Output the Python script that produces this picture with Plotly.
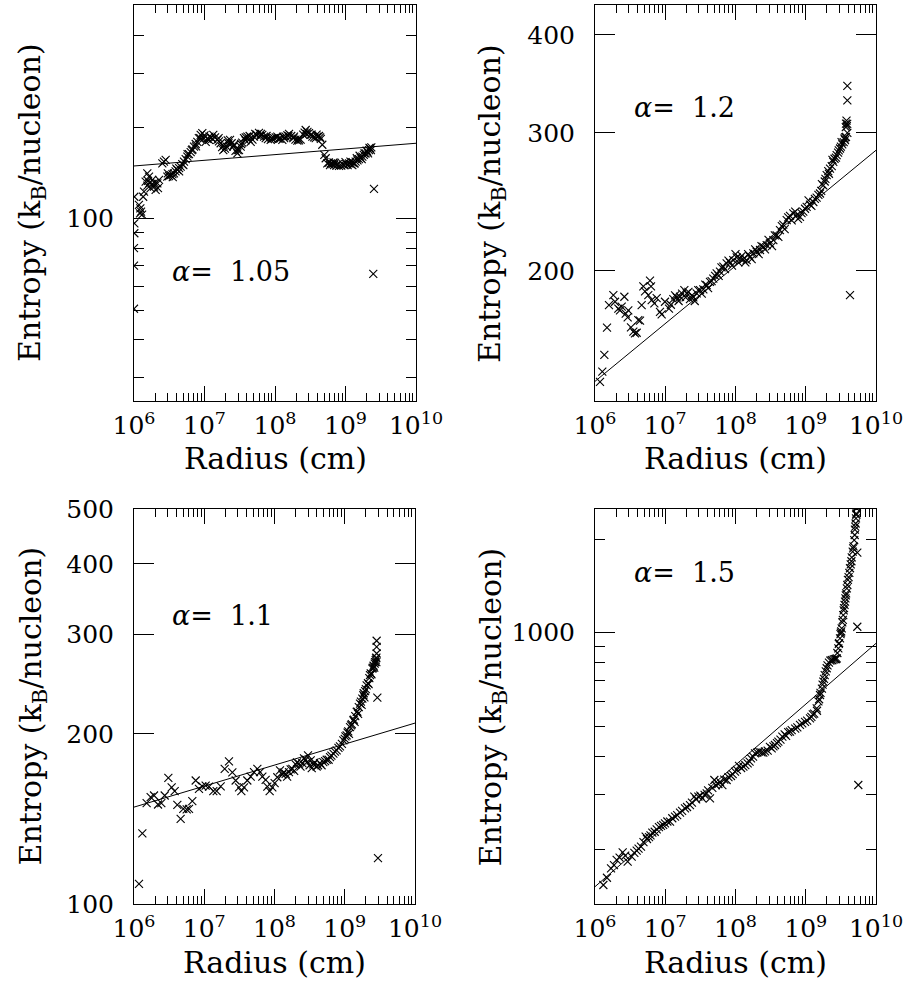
import math
import plotly.graph_objects as go

# ---------------- data ----------------
# Panel 1: alpha = 1.05   (log10 radius [cm], entropy [k_B/nucleon])
lgR1 = [6.005, 6.005, 6.005, 6.0, 6.0, 6.0,
        6.07, 6.085, 6.09, 6.10, 6.115, 6.13,
        6.142, 6.165, 6.189, 6.213, 6.189, 6.236, 6.26, 6.284, 6.307, 6.331, 6.355, 6.26, 6.2,
        6.22, 6.29, 6.34,
        6.402, 6.425, 6.449,
        6.473, 6.48, 6.497, 6.52, 6.545, 6.55, 6.567, 6.59, 6.60, 6.615, 6.64, 6.64, 6.662,
        6.685, 6.70, 6.709, 6.733, 6.757, 6.76, 6.78, 6.804, 6.82, 6.83, 6.851, 6.875, 6.88,
        6.898, 6.92, 6.94, 6.946, 6.969, 7.0,
        6.99, 7.017, 7.04, 7.064, 7.07, 7.095, 7.11, 7.125, 7.15, 7.182, 7.20, 7.205, 7.229,
        7.25, 7.267, 7.27, 7.29, 7.314, 7.33, 7.34, 7.362, 7.385, 7.409, 7.42, 7.44, 7.466,
        7.47, 7.49, 7.513, 7.52, 7.535, 7.56, 7.58, 7.585, 7.608, 7.63, 7.64, 7.655, 7.68,
        7.702, 7.72, 7.74, 7.773, 7.79, 7.8, 7.82, 7.845, 7.868, 7.88, 7.9, 7.939, 7.95,
        7.96, 7.986, 8.01, 8.033, 8.05, 8.07, 8.104, 8.12, 8.13, 8.151, 8.175, 8.19, 8.199,
        8.23, 8.26, 8.27, 8.29, 8.317, 8.33, 8.34, 8.364, 8.4, 8.42, 8.435, 8.45, 8.46,
        8.482, 8.505, 8.52, 8.53, 8.555, 8.577, 8.59, 8.6, 8.624, 8.64, 8.65, 8.671,
        8.70, 8.719, 8.742, 8.765, 8.78, 8.79, 8.815, 8.83, 8.837, 8.85, 8.87, 8.89, 8.908,
        8.94, 8.96, 8.979, 9.0, 9.01, 9.03, 9.05, 9.07, 9.075, 9.097, 9.1, 9.12, 9.13,
        9.144, 9.16, 9.17, 9.191, 9.2, 9.215, 9.23, 9.239, 9.26, 9.27, 9.286, 9.3, 9.31,
        9.32, 9.333, 9.34, 9.35, 9.36, 9.366,
        9.404, 9.394]
S1 = [118, 96.5, 89.5, 80, 70, 50.5,
      111, 104, 108, 105.5, 103, 118,
      122.7, 132.4, 128.4, 137.5, 141, 126, 134, 127.4, 124.3, 130.7, 134, 130, 133,
      131, 131, 126,
      152, 154, 156,
      137.5, 141, 138, 139, 140, 137, 141, 143, 146, 144.6, 146.5, 143, 148.3,
      151, 150, 154, 157, 160, 163, 163, 165.5, 168, 169, 172.5, 176, 173,
      179, 184, 184, 188.5, 191, 188,
      184, 179, 183, 181.5, 186, 185, 183, 188.5, 185, 181.5, 184, 179.5, 177,
      172, 168, 174, 170, 172.5, 181, 177, 181.5, 177, 172.5, 175, 167, 164,
      168, 168, 172.5, 176, 178, 184, 181, 185, 186, 182, 187, 179, 182,
      186, 190, 189, 191.5, 187, 190, 188.5, 186, 184, 187, 182.5, 181.5, 184,
      183, 184, 185, 186, 183, 183.5, 181.5, 186, 184, 186, 188, 187, 190,
      187, 184, 186, 182, 180.5, 183, 181, 182, 189, 192, 195.7, 190, 193,
      191, 188.5, 189, 186, 185, 184, 189, 186, 187, 185, 183, 175,
      162, 158, 152, 153, 150, 152, 151, 153, 150, 152.5, 149.5, 151, 149,
      149.5, 151, 150, 153.5, 151, 150, 152, 154, 151, 150, 153, 152, 152,
      154, 158, 155.5, 157, 161, 158.5, 157, 160, 162, 164, 164, 167.5, 166,
      164, 168, 171, 170, 168, 171.5,
      125.3, 65.8]
fitR1 = [1e6, 1e10]
fitS1 = [149, 177]

# Panel 2: alpha = 1.2
lgR2 = [6.071, 6.104, 6.133, 6.171, 6.199, 6.261, 6.285, 6.332, 6.356, 6.38, 6.418, 6.437,
        6.474, 6.465, 6.512, 6.546, 6.569, 6.593, 6.617, 6.641, 6.664, 6.688, 6.712, 6.783,
        6.797, 6.759, 6.807, 6.845, 6.878, 6.925, 6.949, 6.996, 7.053, 7.08, 7.115, 7.14,
        7.163, 7.19, 7.21, 7.24, 7.272, 7.29, 7.305, 7.33, 7.352, 7.38, 7.4, 7.42, 7.447,
        7.47, 7.495, 7.52, 7.542, 7.57, 7.59, 7.61, 7.637, 7.66, 7.684, 7.71, 7.732, 7.76,
        7.779, 7.80, 7.827, 7.85, 7.874, 7.90, 7.922, 7.95, 7.969, 8.0, 8.017, 8.04, 8.064,
        8.09, 8.112, 8.14, 8.159, 8.18, 8.206, 8.23, 8.254, 8.28, 8.301, 8.33, 8.349, 8.37,
        8.396, 8.42, 8.444, 8.47, 8.491, 8.52, 8.539, 8.56, 8.586, 8.61, 8.633, 8.66, 8.68,
        8.70, 8.729, 8.75, 8.776, 8.80, 8.823, 8.85, 8.87, 8.89, 8.918, 8.94, 8.965, 8.99,
        9.013, 9.04, 9.06, 9.08, 9.108, 9.13, 9.155, 9.18, 9.203, 9.22, 9.23, 9.25, 9.27,
        9.28, 9.298, 9.32, 9.33, 9.345, 9.37, 9.38, 9.392, 9.41, 9.43, 9.44, 9.46, 9.47,
        9.488, 9.50, 9.51, 9.52, 9.54, 9.55, 9.559, 9.56, 9.57, 9.573, 9.573, 9.58, 9.585,
        9.59, 9.592, 9.592, 9.592, 9.63]
S2 = [144.3, 148.7, 156.2, 169.2, 180.8, 186.2, 182.6, 179, 178, 180, 185.3, 176.3,
      178, 174.4, 169.4, 167.2, 166.4, 166.7, 173, 172.7, 180.8, 191, 188.3, 194.3,
      191, 186.2, 183.5, 181.7, 184.5, 177.3, 176, 182.6, 179, 181, 184, 186,
      185, 183, 185.3, 187, 189, 185, 187.2, 188, 184, 186, 185, 183, 187.2,
      189, 189, 187, 189.4, 192, 191.8, 190, 193.6, 194, 195.5, 197, 198.5, 197,
      199.5, 202, 202.4, 201, 204.4, 206, 204.8, 203, 206.4, 210, 208, 205, 207.4,
      209, 206.8, 205, 206.4, 210, 208.4, 207, 210.5, 213, 211.5, 210, 212.6, 215,
      214.6, 213, 215.7, 219, 216.8, 215, 218.9, 222, 222, 221, 225.4, 228, 229,
      226, 232.1, 234, 235, 232, 236.7, 238, 235.5, 233, 234.4, 237, 238, 240,
      241.3, 246, 243, 242, 244.8, 247, 248, 250, 251, 253, 258, 257, 260,
      262, 265, 268, 266, 270, 272, 277, 275.5, 278, 279, 281, 283, 285,
      286.5, 288, 292, 290, 292, 295, 293.6, 296, 305, 296.5, 308.3, 311, 306,
      308, 300, 330.1, 344.4, 186.2]
fitR2 = [1e6, 1e10]
fitS2 = [144.5, 285]

# Panel 3: alpha = 1.1
lgR3 = [6.071, 6.119, 6.18, 6.237, 6.285, 6.342, 6.389, 6.437, 6.489, 6.536, 6.579, 6.617,
        6.664, 6.702, 6.75, 6.783, 6.83, 6.878, 6.925, 6.973, 7.02, 7.068, 7.129, 7.177,
        7.234, 7.291, 7.352, 7.4, 7.447, 7.495, 7.528, 7.566, 7.613, 7.661, 7.708, 7.756,
        7.794, 7.827, 7.874, 7.898, 7.931, 7.969, 8.002, 8.04, 8.078, 8.112, 8.13, 8.159,
        8.18, 8.206, 8.23, 8.254, 8.28, 8.301, 8.32, 8.349, 8.37, 8.396, 8.42, 8.444, 8.46,
        8.477, 8.50, 8.515, 8.53, 8.553, 8.57, 8.6, 8.62, 8.648, 8.67, 8.695, 8.72, 8.743,
        8.77, 8.79, 8.81, 8.838, 8.86, 8.885, 8.91, 8.932, 8.96, 8.98, 9.0, 9.01, 9.027,
        9.04, 9.05, 9.06, 9.075, 9.09, 9.1, 9.122, 9.13, 9.14, 9.15, 9.17, 9.18, 9.19, 9.2,
        9.217, 9.23, 9.24, 9.25, 9.265, 9.27, 9.28, 9.29, 9.3, 9.312, 9.33, 9.34, 9.35,
        9.359, 9.37, 9.38, 9.393, 9.4, 9.41, 9.42, 9.426, 9.43, 9.44, 9.445, 9.45, 9.45,
        9.454, 9.454, 9.454, 9.464, 9.473]
S3 = [108.5, 133.4, 150.8, 154.5, 155.6, 150, 150.8, 155.6, 167.2, 160.9, 158.4, 149.8,
      141.5, 147.4, 147, 147.4, 152.1, 165.4, 159.9, 161.5, 162, 161.3, 158.4, 158.4,
      161.5, 173.4, 178.8, 170.9, 165.4, 160.9, 158.4, 160.9, 165.4, 168.1, 171.1, 173.4,
      171.1, 168.1, 165.8, 161.3, 158.4, 160.9, 163.6, 167.6, 172.3, 169.5, 171, 170,
      168, 171.1, 173, 173.4, 172, 176.6, 178, 177.1, 175, 177.6, 181, 180, 178,
      183.2, 176, 179.5, 174, 176.6, 178, 175.1, 176, 177.6, 176, 178.3, 179, 180,
      180, 181.9, 183, 184.5, 186, 187, 189, 190, 192, 194.7, 196, 198, 198.7,
      201, 202, 200, 205.6, 207, 208, 211.3, 212, 210, 215, 218.8, 219, 217, 223,
      226.3, 228, 225, 231, 234.1, 236, 232, 238, 240, 243.8, 246, 245, 251,
      254, 256, 255, 261, 262, 264, 262, 266.4, 268, 270, 272, 273, 268,
      277.5, 285.1, 292.3, 231.9, 120.5]
fitR3 = [1e6, 1e10]
fitS3 = [148.4, 209]

# Panel 4: alpha = 1.5
lgR4 = [6.119, 6.17, 6.228, 6.27, 6.308, 6.35, 6.394, 6.43, 6.465, 6.522, 6.56, 6.593,
        6.62, 6.655, 6.69, 6.721, 6.74, 6.769, 6.79, 6.816, 6.85, 6.878, 6.91, 6.94, 6.97,
        6.996, 7.03, 7.068, 7.10, 7.139, 7.17, 7.21, 7.24, 7.281, 7.31, 7.352, 7.38, 7.414,
        7.44, 7.471, 7.50, 7.528, 7.56, 7.59, 7.61, 7.637, 7.67, 7.699, 7.72, 7.756, 7.78,
        7.813, 7.84, 7.874, 7.90, 7.936, 7.96, 7.993, 8.02, 8.05, 8.08, 8.112, 8.14, 8.173,
        8.20, 8.221, 8.25, 8.278, 8.31, 8.335, 8.37, 8.396, 8.42, 8.458, 8.49, 8.515, 8.54,
        8.562, 8.59, 8.61, 8.64, 8.667, 8.70, 8.72, 8.75, 8.776, 8.80, 8.85, 8.88, 8.918,
        8.95, 8.99, 9.02, 9.06, 9.08, 9.1, 9.12, 9.156, 9.16, 9.18, 9.19, 9.203, 9.21, 9.23,
        9.24, 9.25, 9.26, 9.27, 9.285, 9.298, 9.31, 9.33, 9.35, 9.369, 9.38, 9.40, 9.42,
        9.43, 9.441, 9.45, 9.464, 9.47, 9.475, 9.488, 9.495, 9.50, 9.505, 9.512, 9.52,
        9.528, 9.534, 9.54, 9.545, 9.552, 9.559, 9.565, 9.57, 9.575, 9.585, 9.592, 9.60,
        9.61, 9.62, 9.63, 9.64, 9.65, 9.655, 9.668, 9.675, 9.68, 9.69, 9.697, 9.70, 9.705,
        9.71, 9.715, 9.718, 9.72, 9.725, 9.728,
        9.734, 9.734, 9.748]
S4 = [153.5, 162, 173.8, 178, 184.9, 188, 195.6, 191, 182.5, 189.4, 195, 198,
      201, 204, 211, 219.8, 216, 219, 222, 226.4, 228, 232.1, 236, 238, 240,
      242.8, 246, 245.8, 252, 255, 258, 262.7, 266, 271.3, 274, 278, 283, 295.8,
      290, 295.8, 298, 292.1, 300, 303.2, 310, 292.1, 316, 334.8, 322, 325, 330,
      322.5, 336, 334.8, 342, 344.9, 350, 356.4, 361, 371.6, 366, 369.8, 374, 379,
      384, 393.2, 398, 408.2, 410, 413.2, 411, 410.2, 414, 416.3, 428, 423.7, 430,
      434.2, 440, 445, 452, 461.8, 470, 465, 478, 479.3, 485, 490, 495, 503.9,
      510, 516, 520, 529.6, 535, 545, 548, 570.4, 560, 600, 610, 629.5, 640, 660,
      680, 695.1, 710, 730, 750, 767.8, 785, 800, 812, 816.3, 815, 820, 822,
      822, 826.7, 860, 890.7, 920, 925, 959.2, 990, 1000, 1010, 1033, 1080,
      1100, 1140, 1180, 1200, 1230, 1259, 1290, 1320, 1340, 1390, 1425, 1480,
      1510, 1560, 1614, 1660, 1700, 1750, 1825, 1870, 1900, 1990, 2066, 2150, 2200,
      2250, 2339, 2420, 2400, 2520, 2550,
      1811, 1045, 322.6]
fitR4 = [1e6, 1e10]
fitS4 = [151.6, 924]

alpha_labels = ["1.05", "1.2", "1.1", "1.5"]
xtick_vals = [1e6, 1e7, 1e8, 1e9, 1e10]
xtick_text = ["10<sup>6</sup>", "10<sup>7</sup>", "10<sup>8</sup>", "10<sup>9</sup>", "10<sup>10</sup>"]

# ---------------- figure ----------------
W, H = 911, 986
FONT = "DejaVu Serif"

panels = [
    (lgR1, S1, fitR1, fitS1),
    (lgR2, S2, fitR2, fitS2),
    (lgR3, S3, fitR3, fitS3),
    (lgR4, S4, fitR4, fitS4),
]

fig = go.Figure()
for i, (lr, s, fr, fs) in enumerate(panels):
    sfx = "" if i == 0 else str(i + 1)
    fig.add_trace(go.Scatter(
        x=[10 ** v for v in lr], y=s, mode="markers",
        marker=dict(symbol="x-thin", size=8, color="black",
                    line=dict(width=1.1, color="black")),
        xaxis="x" + sfx, yaxis="y" + sfx, showlegend=False, cliponaxis=True))
    fig.add_trace(go.Scatter(
        x=fr, y=fs, mode="lines", line=dict(color="black", width=1),
        xaxis="x" + sfx, yaxis="y" + sfx, showlegend=False))

# pixel boxes of the four plot areas (left, right, top, bottom)
boxes = [(134, 416, 5, 401), (595, 876, 5, 401), (134, 415, 509, 904), (595, 876, 509, 904)]

minor_x = [m * 10 ** e for e in range(6, 10) for m in range(2, 10)]

yspecs = [
    dict(range=[math.log10(25.1), math.log10(504.7)], major=[100], minor=[30, 40, 50, 60, 70, 80, 90, 200, 300, 400]),
    dict(range=[math.log10(136.4), math.log10(436.8)], major=[200, 300, 400], minor=[]),
    dict(range=[2.0, math.log10(500)], major=[100, 200, 300, 400, 500], minor=[]),
    dict(range=[math.log10(133.3), math.log10(2506)], major=[1000], minor=[200, 300, 400, 500, 600, 700, 800, 900, 2000]),
]

tickfont = dict(family=FONT, size=25, color="black")
layout = dict(width=W, height=H, margin=dict(l=0, r=0, t=0, b=0),
              paper_bgcolor="white", plot_bgcolor="white", showlegend=False,
              annotations=[])

for i, (l, r, t, b) in enumerate(boxes):
    sfx = "" if i == 0 else str(i + 1)
    xd = [l / W, r / W]
    yd = [1 - b / H, 1 - t / H]
    layout["xaxis" + sfx] = dict(
        type="log", range=[6, 10], domain=xd, anchor="y" + sfx,
        tickmode="array", tickvals=xtick_vals, ticktext=xtick_text,
        ticks="inside", ticklen=15, tickwidth=1, tickcolor="black",
        showline=True, linecolor="black", linewidth=1, mirror="ticks",
        showgrid=False, zeroline=False, tickfont=tickfont, automargin=False,
        ticklabelstandoff=2,
        minor=dict(tickmode="array", tickvals=minor_x, ticks="inside", ticklen=8,
                   tickwidth=1, tickcolor="black", showgrid=False))
    ys = yspecs[i]
    yax = dict(
        type="log", range=ys["range"], domain=yd, anchor="x" + sfx,
        tickmode="array", tickvals=ys["major"], ticktext=[str(v) for v in ys["major"]],
        ticks="inside", ticklen=20, tickwidth=1, tickcolor="black",
        showline=True, linecolor="black", linewidth=1, mirror="ticks",
        showgrid=False, zeroline=False, tickfont=tickfont, automargin=False,
        ticklabelstandoff=14)
    if ys["minor"]:
        yax["minor"] = dict(tickmode="array", tickvals=ys["minor"], ticks="inside", ticklen=10,
                            tickwidth=1, tickcolor="black", showgrid=False)
    layout["yaxis" + sfx] = yax

    # axis titles
    cx = (l + r) / 2 / W
    layout["annotations"].append(dict(
        text="Radius (cm)", xref="paper", yref="paper", x=cx, y=1 - (b + 58) / H,
        xanchor="center", yanchor="middle", showarrow=False,
        font=dict(family=FONT, size=30, color="black")))
    ytx = 32 if l < 300 else 492
    layout["annotations"].append(dict(
        text="Entropy (k<sub>B</sub>/nucleon)", xref="paper", yref="paper",
        x=ytx / W, y=1 - (t + b) / 2 / H, xanchor="center", yanchor="middle",
        textangle=-90, showarrow=False,
        font=dict(family=FONT, size=30, color="black")))

# alpha labels (left edge x, centre y in pixels)
alpha_pos = [(170, 271), (632, 108), (170, 615), (632, 572)]
for (ax_, ay_), lab in zip(alpha_pos, alpha_labels):
    layout["annotations"].append(dict(
        text="<i>α</i>=\u00a0 " + lab, xref="paper", yref="paper",
        x=ax_ / W, y=1 - ay_ / H, xanchor="left", yanchor="middle", showarrow=False,
        font=dict(family=FONT, size=27, color="black")))

fig.update_layout(**layout)
fig.write_html("out.html", config={"displayModeBar": False},
               post_script="document.body.style.margin='0';document.body.style.overflow='hidden';")
